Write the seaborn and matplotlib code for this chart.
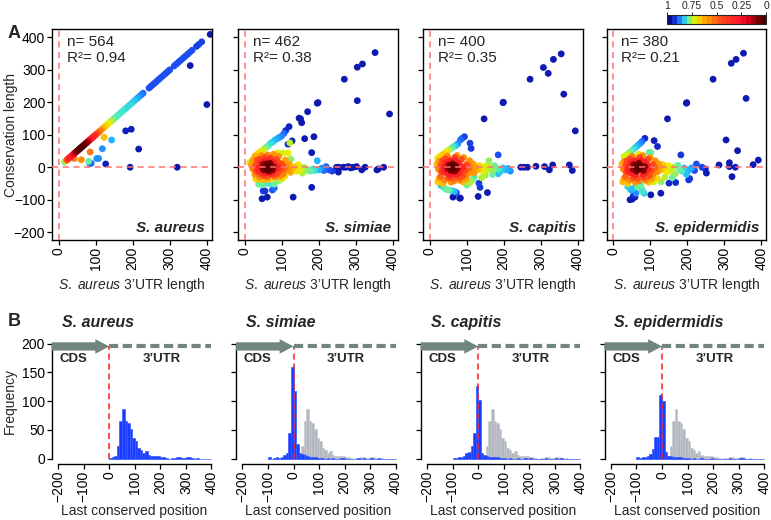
import numpy as np
import pandas as pd
import matplotlib
matplotlib.use('agg')
import matplotlib.pyplot as plt
from matplotlib.colors import LinearSegmentedColormap, Normalize
from matplotlib.cm import ScalarMappable
import seaborn as sns

species = ['S. aureus', 'S. simiae', 'S. capitis', 'S. epidermidis']
n_genes = [564, 462, 400, 380]
r2 = [0.94, 0.38, 0.35, 0.21]

# (UTR length, conservation length, density colour value 0..1)
aureus_pts = [
    (16, 16, .80), (19, 19, .74), (22, 22, .50), (25, 25, .40), (28, 28, .33), (31, 31, .30),
    (34, 34, .28), (37, 37, .25), (40, 40, .22), (43, 43, .18), (46, 46, .14), (49, 49, .08),
    (52, 52, .04), (55, 55, .02), (58, 58, .01), (61, 61, .01), (64, 64, .02), (67, 67, .03),
    (70, 70, .05), (73, 73, .08), (76, 76, .12), (79, 79, .16), (82, 82, .22), (85, 85, .27),
    (88, 88, .30), (91, 91, .32), (94, 94, .35), (97, 97, .38), (100, 100, .42), (104, 104, .48),
    (108, 108, .53), (112, 112, .58), (116, 116, .62), (120, 120, .65), (124, 124, .68),
    (128, 128, .70), (132, 132, .72), (136, 136, .74), (140, 140, .76), (144, 144, .78),
    (148, 148, .80), (153, 153, .81), (158, 158, .81), (163, 163, .82), (168, 168, .82),
    (173, 173, .82), (178, 178, .83), (183, 183, .83), (188, 188, .83), (193, 193, .83),
    (198, 198, .84), (203, 203, .84), (208, 208, .86), (213, 213, .87), (218, 218, .88),
    (223, 223, .89), (228, 228, .90), (244, 244, .92), (249, 249, .92), (254, 254, .92),
    (259, 259, .92), (264, 264, .92), (270, 270, .92), (276, 276, .92), (282, 282, .92),
    (288, 288, .92), (294, 294, .92), (300, 300, .92), (312, 312, .92), (318, 318, .92),
    (324, 324, .92), (330, 330, .92), (336, 336, .92), (342, 342, .92), (348, 348, .92),
    (354, 354, .92), (360, 360, .92), (372, 372, .93), (378, 378, .93), (386, 386, .93),
    (409, 409, .97),
    (355, 313, .97), (400, 193, .97), (181, 112, .96), (196, 117, .96), (216, 56, .97),
    (193, 0, .98), (320, 0, .98), (127, 10, .96), (123, 92, .66), (143, 84, .86),
    (118, 57, .88), (85, 47, .55), (61, 23, .58), (42, 27, .55), (81, 18, .80),
    (84, 12, .90), (88, 12, .90), (103, 27, .88), (108, 27, .88),
]

simiae_pts = [
    (352, 353, .97), (304, 308, .97), (318, 318, .97), (269, 271, .97), (304, 205, .97),
    (391, 164, .97), (198, 199, .97), (196, 197, .97), (170, 171, .97), (147, 151, .97),
    (151, 149, .97), (154, 137, .97), (162, 88, .97), (187, 94, .97), (181, 45, .97),
    (128, 81, .96), (117, 71, .95), (120, 125, .96), (111, 113, .95), (181, -62, .97),
    (131, -92, .97), (47, -97, .97), (61, -92, .97), (50, -73, .94), (55, -73, .94),
    (80, -64, .90), (75, -70, .92),
    (14, 15, .74), (22, 22, .66), (28, 34, .64), (34, 40, .68), (40, 46, .70), (46, 50, .74),
    (52, 56, .76), (58, 62, .80), (64, 66, .82), (70, 74, .83), (76, 78, .85), (82, 84, .86),
    (88, 88, .87), (94, 92, .88), (100, 96, .89), (106, 104, .90),
    (89, 44, .74), (103, 44, .74), (117, 44, .72), (122, 75, .76), (125, 25, .78),
    (128, -5, .64), (134, 2, .68), (140, -12, .70), (145, 8, .72), (150, -8, .74), (156, -18, .76),
    (160, 0, .77), (166, -10, .79), (172, -8, .80), (178, -12, .80), (185, -5, .82),
    (190, -10, .83), (196, 20, .86), (200, -8, .86), (208, -3, .88), (214, -10, .90),
    (220, 2, .90), (228, -8, .92), (236, -12, .93),
    (248, 0, .97), (255, 0, .97), (266, 0, .97), (273, 0, .97), (280, 2, .97), (286, -2, .97),
    (293, 0, .97), (302, 2, .97), (253, -15, .97), (316, -8, .97), (325, 0, .97),
    (357, -8, .97), (361, -5, .97), (375, 0, .97),
    (30, -36, .68), (42, -38, .66), (52, -37, .66), (62, -38, .67), (72, -36, .70),
    (38, -52, .80), (46, -54, .80), (56, -50, .82), (66, -50, .82), (80, -52, .80),
    (92, -42, .78), (100, -36, .74), (108, -28, .70),
    (22, -5, .56), (24, 22, .60), (112, 0, .58), (118, -10, .60), (104, -20, .56), (92, 34, .60),
    (40, -30, .58), (62, -32, .56), (82, -30, .58), (120, 10, .62), (46, 36, .58), (110, 22, .62),
    (28, -22, .60), (62, 38, .58), (96, -28, .60), (78, 40, .60), (124, -16, .64), (18, 8, .62),
    (30, 5, .45), (32, -12, .45), (35, 22, .45), (96, -8, .45), (102, 8, .45), (88, -20, .45),
    (70, 28, .42), (52, -26, .44), (42, 24, .42), (86, 24, .45), (106, -5, .50), (62, -26, .48),
    (78, -24, .44), (92, 15, .44), (55, 30, .44), (40, -20, .46),
    (40, 0, .30), (45, 12, .28), (45, -14, .28), (80, 10, .28), (85, -5, .30), (55, 20, .28),
    (65, 20, .28), (60, -18, .28), (75, -16, .30), (90, 2, .34), (38, -8, .32), (78, 16, .30),
    (50, -18, .30), (70, -18, .30),
    (55, 0, .05), (60, 5, .03), (65, -5, .02), (70, 3, .04), (62, -10, .06), (52, -8, .07),
    (58, 10, .06), (68, 12, .07), (75, -8, .09), (50, 8, .10), (66, -12, .10), (72, -3, .05),
    (48, -2, .14), (78, 2, .12), (60, -5, .02), (64, 8, .04),
]

capitis_pts = [
    (355, 349, .97), (334, 332, .97), (307, 307, .97), (320, 289, .97), (271, 271, .97),
    (362, 225, .97), (198, 199, .97), (199, 200, .97), (147, 149, .97), (393, 112, .97),
    (94, 94, .93), (88, 89, .92), (83, 84, .90), (109, 74, .93), (112, 58, .94), (185, 38, .92),
    (246, 0, .97), (255, 0, .97), (264, 0, .97), (287, 3, .97), (310, 2, .97), (323, -8, .97),
    (332, 7, .97), (377, 7, .97), (385, -10, .97), (156, -78, .97), (131, -90, .97),
    (81, -95, .97), (63, -92, .97), (83, -95, .97), (133, -49, .93), (136, -62, .94), (72, -78, .94),
    (22, 28, .72), (28, 33, .70), (34, 38, .68), (40, 43, .70), (46, 48, .72), (52, 53, .76),
    (58, 58, .80), (64, 63, .82), (70, 66, .85), (76, 72, .88),
    (31, -57, .84), (38, -62, .82), (45, -68, .80), (52, -70, .80), (60, -72, .84), (68, -75, .86),
    (106, -50, .78), (110, -45, .76), (115, -39, .80), (100, -55, .80), (120, -30, .82),
    (125, 0, .62), (130, -8, .66), (135, 5, .70), (140, -5, .72), (146, -15, .74), (150, 3, .74),
    (156, -8, .76), (162, 2, .76), (168, -10, .78), (175, 5, .80), (180, -3, .80), (186, -6, .82),
    (192, -12, .84), (198, -2, .85), (205, -8, .86), (212, -4, .87), (218, -12, .88),
    (160, 20, .78), (170, -22, .80), (150, -25, .78), (185, -20, .85), (140, -32, .76),
    (55, 0, .03), (60, 5, .02), (65, -3, .03), (70, 4, .05), (58, -10, .06), (62, 10, .06),
    (68, -12, .08), (52, 6, .08), (74, -5, .10), (48, -4, .12), (64, 0, .02),
    (40, 2, .28), (44, 14, .30), (44, -16, .28), (80, 8, .30), (84, -6, .30), (56, 20, .28),
    (68, 20, .30), (56, -24, .28), (72, -22, .30), (90, 0, .34), (38, -10, .32), (80, -18, .32),
    (50, -18, .26), (76, 14, .28),
    (30, 5, .45), (32, -14, .45), (35, 20, .45), (96, -10, .46), (100, 8, .45), (90, -26, .46),
    (68, 30, .44), (50, -32, .46), (42, 26, .44), (86, 24, .46), (106, -2, .50), (62, -34, .48),
    (80, -32, .46), (30, -28, .50),
    (24, -6, .58), (26, 18, .60), (110, 2, .58), (114, -14, .60), (102, -22, .58), (92, 30, .60),
    (40, -40, .58), (66, -42, .56), (82, -40, .58), (118, 10, .62), (48, 34, .58), (108, 20, .60),
    (26, -34, .62), (58, -46, .60), (98, -36, .62), (74, 36, .60), (120, -18, .62),
    (22, -45, .68), (36, -50, .66), (90, -45, .66), (20, 10, .66),
]

epidermidis_pts = [
    (352, 351, .97), (332, 332, .97), (319, 320, .97), (270, 271, .97), (359, 212, .97),
    (198, 197, .97), (199, 199, .97), (147, 149, .97), (305, 84, .97), (336, 51, .97),
    (378, 8, .97), (392, 22, .97), (314, 14, .97), (314, 2, .97), (321, -29, .97), (286, 7, .97),
    (252, -18, .97), (249, -5, .97), (330, 0, .97), (183, 38, .94), (200, -13, .93),
    (204, -39, .94), (207, -35, .94), (169, -47, .95), (151, -49, .95), (129, -80, .97),
    (102, -85, .97), (46, -100, .97), (52, -98, .97), (59, -92, .97), (55, -88, .95),
    (86, 89, .95), (111, 82, .96), (120, 64, .95), (225, 10, .92), (220, -10, .92), (240, 0, .93),
    (30, 33, .74), (36, 38, .76), (42, 43, .78), (48, 48, .80), (54, 54, .82), (60, 60, .84),
    (66, 66, .86), (72, 72, .88), (78, 79, .90), (97, 45, .80), (102, 45, .80), (70, 40, .72),
    (79, -70, .82), (84, -80, .84), (80, -75, .82), (75, -55, .80), (66, -60, .80), (55, -65, .85),
    (48, -70, .86), (40, -60, .84), (62, -80, .88),
    (125, 2, .62), (130, -8, .66), (135, 8, .68), (140, -3, .70), (146, -15, .72), (150, 4, .73),
    (156, -10, .75), (162, 0, .76), (168, -20, .78), (175, 6, .80), (180, -5, .80), (186, -12, .82),
    (192, -2, .84), (198, -22, .85), (205, -8, .86), (212, -2, .87), (140, -30, .76),
    (160, -32, .80), (120, -35, .70), (110, -45, .74), (130, -45, .78),
    (60, 0, .03), (66, 5, .02), (72, -4, .03), (78, 3, .05), (64, -12, .06), (70, 12, .07),
    (82, -10, .08), (56, 8, .09), (86, 2, .10), (54, -6, .12), (70, 0, .02),
    (44, 2, .28), (48, 14, .30), (46, -16, .28), (90, 10, .30), (94, -8, .30), (60, 20, .28),
    (76, 20, .30), (60, -24, .28), (80, -22, .30), (98, 0, .34), (40, -10, .32), (86, -18, .32),
    (52, -18, .26), (84, 16, .28),
    (34, 5, .45), (36, -14, .45), (38, 20, .45), (104, -10, .46), (108, 8, .45), (98, -26, .46),
    (72, 30, .44), (54, -32, .46), (46, 26, .44), (94, 24, .46), (112, -2, .50), (66, -34, .48),
    (84, -32, .46), (34, -28, .50),
    (28, -6, .58), (30, 18, .60), (116, 2, .58), (120, -14, .60), (108, -22, .58), (100, 30, .60),
    (44, -40, .58), (70, -42, .56), (88, -40, .58), (124, 10, .62), (52, 34, .58), (114, 20, .60),
    (30, -34, .62), (60, -46, .60), (104, -36, .62), (80, 36, .60),
    (26, -45, .66), (40, -50, .68), (96, -46, .66), (24, 10, .66),
]

# histogram counts, 10-wide bins starting at hist_start
hist_start = [0, -100, -100, -100]
aureus_counts = [1, 3, 5, 21, 65, 87, 65, 61, 51, 35, 31, 18, 15, 10, 13, 7, 5, 5, 5, 4,
                 2, 3, 1, 0, 1, 1, 3, 2, 1, 1, 2, 2, 1, 0, 1, 0, 0, 0, 0, 0]
simiae_counts = [2, 0, 1, 2, 1, 3, 6, 9, 44, 159, 118, 26, 10, 8, 6, 5, 3, 3, 2, 1,
                 1, 1, 0, 1, 0, 1, 0, 0, 1, 1, 0, 0, 0, 0, 0, 1, 0, 1, 0, 0,
                 1, 0, 0, 1, 0, 0, 0, 0, 0, 0]
capitis_counts = [1, 1, 2, 3, 5, 9, 12, 22, 45, 126, 101, 10, 6, 4, 3, 2, 3, 2, 1, 1,
                  1, 0, 1, 0, 0, 1, 0, 0, 1, 0, 1, 0, 0, 0, 0, 0, 1, 0, 0, 0,
                  1, 0, 1, 0, 0, 0, 0, 0, 0, 0]
epidermidis_counts = [2, 1, 2, 3, 5, 8, 17, 38, 38, 110, 100, 12, 5, 4, 3, 3, 2, 2, 1, 1,
                      1, 0, 1, 0, 0, 1, 0, 0, 0, 1, 0, 0, 0, 0, 0, 0, 1, 0, 0, 0,
                      1, 1, 0, 0, 0, 0, 0, 0, 0, 0]

scatter_data = [aureus_pts, simiae_pts, capitis_pts, epidermidis_pts]
hist_data = [aureus_counts, simiae_counts, capitis_counts, epidermidis_counts]

dens_cmap = LinearSegmentedColormap.from_list('dens', [
    (0.00, '#4d0000'), (0.08, '#8b0000'), (0.16, '#d4001a'), (0.25, '#ff1a2a'),
    (0.35, '#ff2a20'), (0.45, '#ff4a18'), (0.55, '#ff7a10'), (0.62, '#ffa000'),
    (0.68, '#ffcc00'), (0.73, '#e8f000'), (0.77, '#a8f040'), (0.81, '#50f0c0'),
    (0.86, '#20b8ff'), (0.91, '#1f5cff'), (0.96, '#1020c0'), (1.00, '#0a0a90')])


def hist_frame(start, counts):
    edges = np.arange(start, start + 10 * len(counts) + 1, 10)
    return pd.DataFrame({'pos': edges[:-1] + 5.0, 'n': np.asarray(counts, dtype=float)}), list(edges)


sns.set_style('ticks')
plt.rcParams['font.family'] = ['Liberation Sans', 'DejaVu Sans']
plt.rcParams['mathtext.fontset'] = 'custom'
plt.rcParams['mathtext.rm'] = 'Liberation Sans'
plt.rcParams['mathtext.it'] = 'Liberation Sans:italic'
plt.rcParams['mathtext.bf'] = 'Liberation Sans:bold'

W, H = 771, 520
fig = plt.figure(figsize=(W / 100, H / 100), dpi=100)

a_left = [52.3, 238.3, 423.3, 606.7]
b_left = [51.7, 236.0, 420.7, 604.5]
tick_fs = 10
blue = '#1a3cff'
grey = '#b3b7bf'
arrow_col = '#71867f'

for i, (name, pts) in enumerate(zip(species, scatter_data)):
    ax = fig.add_axes([a_left[i] / W, 1 - 240 / H, 159.4 / W, 210.8 / H])
    arr = np.array(pts, dtype=float)
    arr = arr[np.argsort(-arr[:, 2], kind='stable')]
    sns.scatterplot(x=arr[:, 0], y=arr[:, 1], hue=arr[:, 2], palette=dens_cmap,
                    hue_norm=(0, 1), s=24, linewidth=0, legend=False, ax=ax, zorder=2)
    ax.axvline(0, color='#ff7070', lw=1.1, ls=(0, (4, 3)), zorder=3)
    ax.axhline(0, color='#ff7070', lw=1.1, ls=(0, (4, 3)), zorder=3)
    ax.set_xlim(-17, 413)
    ax.set_ylim(-224, 425)
    ax.set_xticks([0, 100, 200, 300, 400])
    ax.set_yticks([-200, -100, 0, 100, 200, 300, 400])
    ax.tick_params(direction='out', length=3.5, width=0.9, pad=1.5, labelsize=tick_fs,
                   colors='black')
    ax.tick_params(axis='x', labelrotation=90)
    for sp in ax.spines.values():
        sp.set_linewidth(1.0)
        sp.set_color('black')
    if i > 0:
        ax.set_yticklabels([])
        ax.set_ylabel('')
    else:
        ax.set_ylabel('Conservation length', fontsize=10, va='center')
        ax.yaxis.set_label_coords(-0.262, 0.5)
    ax.set_xlabel(r'$\mathit{S.\ aureus}$ 3’UTR length', fontsize=10, va='center')
    ax.xaxis.set_label_coords(0.5, -0.215)
    ax.text(0.092, 0.94, f'n= {n_genes[i]}', transform=ax.transAxes, fontsize=11, va='center')
    ax.text(0.092, 0.864, f'R²= {r2[i]:.2f}', transform=ax.transAxes, fontsize=11, va='center')
    ax.text(0.958, 0.057, name, transform=ax.transAxes, fontsize=11, fontweight='bold',
            fontstyle='italic', ha='right', va='center')

# colour key
cax = fig.add_axes([667 / W, 1 - 24 / H, 99 / W, 9 / H])
sm = ScalarMappable(norm=Normalize(0, 1), cmap=dens_cmap.resampled(20))
cb = fig.colorbar(sm, cax=cax, orientation='horizontal', ticks=[0, 0.25, 0.5, 0.75, 1])
cb.set_ticklabels(['0', '0.25', '0.5', '0.75', '1'])
cax.invert_xaxis()
cax.xaxis.set_ticks_position('top')
cax.tick_params(labelsize=7.5, length=2, width=0.7, pad=1)
cb.outline.set_linewidth(0.8)

grey_df, grey_bins = hist_frame(hist_start[0], aureus_counts)

for i, (name, counts) in enumerate(zip(species, hist_data)):
    ax = fig.add_axes([b_left[i] / W, 1 - 464 / H, 164.4 / W, 126.2 / H])
    if i > 0:
        sns.histplot(data=grey_df, x='pos', weights='n', bins=grey_bins, ax=ax,
                     color=grey, alpha=1, edgecolor='#c4c8ce', linewidth=0.4)
    df, bins = hist_frame(hist_start[i], counts)
    sns.histplot(data=df, x='pos', weights='n', bins=bins, ax=ax,
                 color=blue, alpha=1, edgecolor='#3a5cff', linewidth=0.5)
    ax.plot([0, 0], [0, 195], color='#ff1a1a', lw=1.1, ls=(0, (4, 2.5)), zorder=4)
    ax.plot([0, 400], [195, 195], color=arrow_col, lw=3.0, ls=(0, (2.2, 1.1)), zorder=4,
            dash_capstyle='butt')
    ax.annotate('', xy=(0, 195), xytext=(-225, 195), annotation_clip=False,
                arrowprops=dict(arrowstyle='simple,head_length=1.0,head_width=1.05,tail_width=0.6',
                                mutation_scale=10, color=arrow_col, shrinkA=0, shrinkB=0, lw=0))
    ax.text(-140, 173, 'CDS', fontsize=9.5, fontweight='bold', ha='center', va='center')
    ax.text(205, 173, '3’UTR', fontsize=9.5, fontweight='bold', ha='center', va='center')
    ax.text(-186, 236, name, fontsize=11.5, fontweight='bold', fontstyle='italic',
            ha='left', va='center')
    ax.set_xlim(-225, 418)
    ax.set_ylim(-9.5, 210)
    ax.set_xticks([-200, -100, 0, 100, 200, 300, 400])
    ax.set_yticks([0, 50, 100, 150, 200])
    ax.spines['top'].set_visible(False)
    ax.spines['right'].set_visible(False)
    ax.spines['left'].set_bounds(0, 200)
    ax.spines['bottom'].set_bounds(-200, 400)
    for sp in ('left', 'bottom'):
        ax.spines[sp].set_linewidth(1.0)
        ax.spines[sp].set_color('black')
    ax.tick_params(direction='out', length=3.5, width=0.9, pad=1.5, labelsize=tick_fs,
                   colors='black')
    ax.tick_params(axis='x', labelrotation=90)
    if i > 0:
        ax.set_yticklabels([])
        ax.set_ylabel('')
    else:
        ax.set_ylabel('Frequency', fontsize=10, va='center')
        ax.yaxis.set_label_coords(-0.255, 0.5)
    ax.set_xlabel('Last conserved position', fontsize=10, va='center')
    ax.xaxis.set_label_coords(0.5, -0.37)

fig.text(8 / W, 1 - 33 / H, 'A', fontsize=13, fontweight='bold', va='center')
fig.text(8 / W, 1 - 322 / H, 'B', fontsize=13, fontweight='bold', va='center')

fig.savefig('out.png', dpi=100)
plt.close(fig)
